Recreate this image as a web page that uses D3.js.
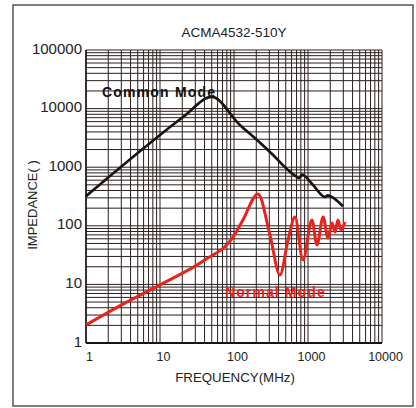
<!DOCTYPE html>
<html>
<head>
<meta charset="utf-8">
<script src="https://cdn.jsdelivr.net/npm/d3@7"></script>
<style>
  body { margin: 0; background: #fff; }
  svg text { font-family: "Liberation Sans", Arial, sans-serif; fill: #222; }
</style>
</head>
<body>
<div id="chart"></div>
<script>
// values (frequency in MHz, impedance in ohm)
const commonFreq = [1, 6.3, 20.5, 50, 120, 205, 337, 537, 700, 760, 830, 1170, 1700, 1850, 1980, 2970];
const commonZ = [320, 2210, 7190, 15800, 5250, 2910, 1620, 896, 690, 650, 750, 497, 310, 330, 322, 215];

const normalFreq = [1, 3.16, 10, 40, 97, 132, 211, 306, 418, 537, 667, 855, 1130, 1320, 1600, 1860, 2110, 2320, 2540, 2790, 3160];
const normalZ = [2.03, 4.6, 9.8, 26, 64, 126, 349, 70, 14.5, 57, 141, 26, 126, 47, 141, 62, 112, 78, 126, 85, 116];

const xTicks = [1, 10, 100, 1000, 10000];
const yTicks = [1, 10, 100, 1000, 10000, 100000];

const width = 416, height = 408;
const plotLeft = 86, plotRight = 382, plotTop = 50, plotBottom = 343;

const svg = d3.select("#chart").append("svg")
  .attr("width", width)
  .attr("height", height);

// outer frame
svg.append("rect")
  .attr("x", 13).attr("y", 5)
  .attr("width", 400).attr("height", 401)
  .attr("fill", "none")
  .attr("stroke", "#555")
  .attr("stroke-width", 1.5);

const x = d3.scaleLog().domain([1, 10000]).range([plotLeft, plotRight]);
const y = d3.scaleLog().domain([1, 100000]).range([plotBottom, plotTop]);

// minor + major grid, 1..9 in every decade
const xGrid = [];
for (let d = 1; d < 10000; d *= 10) for (let k = 1; k < 10; k++) xGrid.push(d * k);
xGrid.push(10000);
const yGrid = [];
for (let d = 1; d < 100000; d *= 10) for (let k = 1; k < 10; k++) yGrid.push(d * k);
yGrid.push(100000);

const grid = svg.append("g").attr("stroke", "#2a1f1f").attr("stroke-width", 1);
grid.selectAll(".vx").data(xGrid).enter().append("line")
  .attr("x1", (d) => x(d)).attr("x2", (d) => x(d))
  .attr("y1", plotTop).attr("y2", plotBottom);
grid.selectAll(".hy").data(yGrid).enter().append("line")
  .attr("x1", plotLeft).attr("x2", plotRight)
  .attr("y1", (d) => y(d)).attr("y2", (d) => y(d));

// axis frame lines
svg.append("line").attr("x1", plotLeft).attr("x2", plotRight).attr("y1", plotBottom).attr("y2", plotBottom)
  .attr("stroke", "#1a1212").attr("stroke-width", 2);
svg.append("line").attr("x1", plotLeft).attr("x2", plotLeft).attr("y1", plotTop).attr("y2", plotBottom)
  .attr("stroke", "#1a1212").attr("stroke-width", 1.5);

// tick labels through d3 axes
const yAxis = d3.axisLeft(y).tickValues(yTicks).tickFormat(d3.format("d")).tickSize(0).tickPadding(4);
const gy = svg.append("g").attr("transform", `translate(${plotLeft},0)`).call(yAxis);
gy.select(".domain").remove();
gy.selectAll("text").attr("font-size", 15).attr("dy", "0.2em")
  .style("font-family", '"Liberation Sans", Arial, sans-serif').attr("fill", "#222");

const xAxis = d3.axisBottom(x).tickValues(xTicks).tickFormat(d3.format("d")).tickSize(0).tickPadding(9);
const gx = svg.append("g").attr("transform", `translate(3,${plotBottom})`).call(xAxis);
gx.select(".domain").remove();
gx.selectAll("text").attr("font-size", 12.5)
  .style("font-family", '"Liberation Sans", Arial, sans-serif').attr("fill", "#222");

// titles
svg.append("text").attr("x", 234).attr("y", 37).attr("text-anchor", "middle")
  .attr("font-size", 13.5).text("ACMA4532-510Y");
svg.append("text").attr("x", 235).attr("y", 382).attr("text-anchor", "middle")
  .attr("font-size", 13.3).text("FREQUENCY(MHz)");
svg.append("text").attr("transform", "translate(37,205) rotate(-90)").attr("text-anchor", "middle")
  .attr("font-size", 13).text("IMPEDANCE( )");

// curves
const line = d3.line()
  .x((d) => x(d[0]))
  .y((d) => y(d[1]))
  .curve(d3.curveMonotoneX);

svg.append("path")
  .datum(commonFreq.map((f, i) => [f, commonZ[i]]))
  .attr("d", line)
  .attr("fill", "none")
  .attr("stroke", "#1c1212")
  .attr("stroke-width", 2.7);

svg.append("path")
  .datum(normalFreq.map((f, i) => [f, normalZ[i]]))
  .attr("d", line)
  .attr("fill", "none")
  .attr("stroke", "#e8231d")
  .attr("stroke-width", 3);

// curve labels
svg.append("text").attr("x", 102).attr("y", 97)
  .attr("font-size", 14).attr("font-weight", "bold").attr("letter-spacing", 1.2)
  .style("fill", "#111").text("Common Mode");
svg.append("text").attr("x", 225).attr("y", 297)
  .attr("font-size", 14).attr("font-weight", "bold").attr("letter-spacing", 1.1)
  .style("fill", "#e8231d").text("Normal Mode");
</script>
</body>
</html>
